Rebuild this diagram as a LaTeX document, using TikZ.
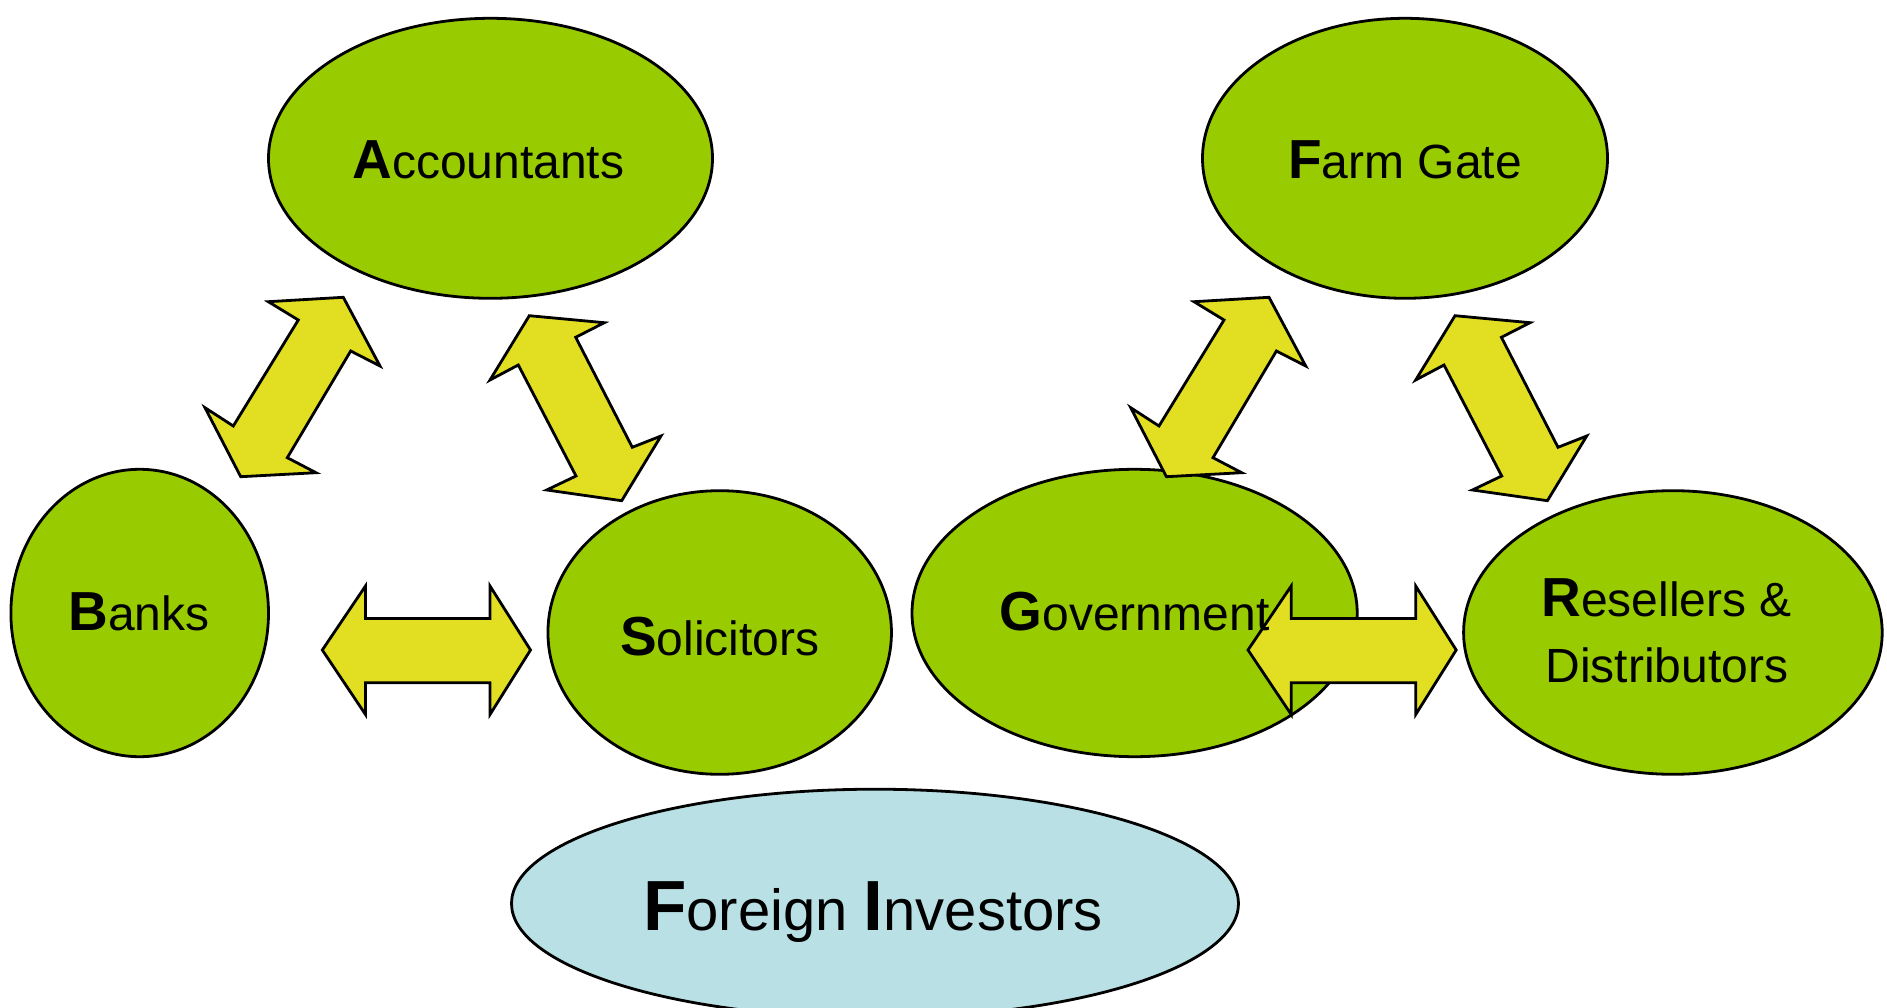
\documentclass[tikz,border=0pt]{standalone}
\usepackage{fontspec}
\setmainfont{Liberation Sans}
\usetikzlibrary{shapes.geometric}
\definecolor{leaf}{RGB}{153,204,0}
\definecolor{arrowyellow}{RGB}{226,223,34}
\definecolor{paleblue}{RGB}{185,224,228}
\newcommand\bigini[1]{{\fontsize{55}{60}\selectfont\bfseries #1}}
\newcommand\hugeini[1]{{\fontsize{71}{78}\selectfont\bfseries #1}}
\begin{document}
\begin{tikzpicture}[x=1pt,y=-1pt,
  bubble/.style={ellipse, draw=black, line width=2.8pt, fill=leaf, inner sep=0pt},
  investor/.style={ellipse, draw=black, line width=2.8pt, fill=paleblue, inner sep=0pt},
  label/.style={anchor=base, inner sep=0pt, font=\fontsize{48}{56}\selectfont},
  biglabel/.style={anchor=base, inner sep=0pt, font=\fontsize{58}{66}\selectfont},
  blockarrow/.style={draw=black, line width=2.8pt, fill=arrowyellow, line join=miter}]
\useasboundingbox (0,0) rectangle (1887,1008);
\clip (0,0) rectangle (1887,1008);

% ellipses
\node[bubble, minimum width=444pt, minimum height=280pt] (acc) at (490.5,158.3) {};
\node[bubble, minimum width=405pt, minimum height=280pt] (farm) at (1405,158.3) {};
\node[bubble, minimum width=257.6pt, minimum height=287.4pt] (banks) at (139.7,613) {};
\node[bubble, minimum width=343.5pt, minimum height=283.6pt] (sol) at (719.7,632.5) {};
\node[bubble, minimum width=445.2pt, minimum height=287.4pt] (gov) at (1134.6,613) {};
\node[bubble, minimum width=418.6pt, minimum height=283.6pt] (res) at (1672.9,632.5) {};
\node[investor, minimum width=727pt, minimum height=228.6pt] (fi) at (875,903.5) {};

% block arrows, left group
\begin{scope}
\draw[blockarrow] (268.3,301.7) -- (343.3,297.3) -- (380,366) -- (350.7,351) -- (287.3,457.7) -- (316,472.7) -- (240.7,476.7) -- (205,407.7) -- (233.3,426) -- (298.3,320) -- cycle;
\draw[blockarrow] (529.3,315.7) -- (604.3,322.7) -- (575.7,337.3) -- (632.3,447.3) -- (661,436) -- (621.7,500.7) -- (546.7,490) -- (576,476) -- (518.3,365) -- (490,380) -- cycle;
\draw[blockarrow] (322.3,650) -- (365.5,586) -- (365.5,618.5) -- (490,618.5) -- (490,586) -- (530.5,650) -- (490,714.5) -- (490,682.8) -- (365.5,682.8) -- (365.5,714.5) -- cycle;
\end{scope}
% block arrows, right group (same shapes shifted)
\begin{scope}[xshift=925.7pt]
\draw[blockarrow] (268.3,301.7) -- (343.3,297.3) -- (380,366) -- (350.7,351) -- (287.3,457.7) -- (316,472.7) -- (240.7,476.7) -- (205,407.7) -- (233.3,426) -- (298.3,320) -- cycle;
\draw[blockarrow] (529.3,315.7) -- (604.3,322.7) -- (575.7,337.3) -- (632.3,447.3) -- (661,436) -- (621.7,500.7) -- (546.7,490) -- (576,476) -- (518.3,365) -- (490,380) -- cycle;
\draw[blockarrow] (322.3,650) -- (365.5,586) -- (365.5,618.5) -- (490,618.5) -- (490,586) -- (530.5,650) -- (490,714.5) -- (490,682.8) -- (365.5,682.8) -- (365.5,714.5) -- cycle;
\end{scope}

% labels
\node[label] (accT) at (488.3,178.3) {\bigini{A}ccountants};
\node[label] (farmT) at (1405,178.3) {\bigini{F}arm Gate};
\node[label] (banksT) at (139,630) {\bigini{B}anks};
\node[label] (solT) at (719.7,655) {\bigini{S}olicitors};
\node[label] (govT) at (1134.6,630) {\bigini{G}overnment};
\node[label] (resT) at (1666.7,616.7) {\bigini{R}esellers \&};
\node[label] (disT) at (1666.7,682.7) {Distributors};
\node[biglabel] (fiT) at (873,930) {\hugeini{F}oreign \hugeini{I}nvestors};
\end{tikzpicture}
\end{document}
